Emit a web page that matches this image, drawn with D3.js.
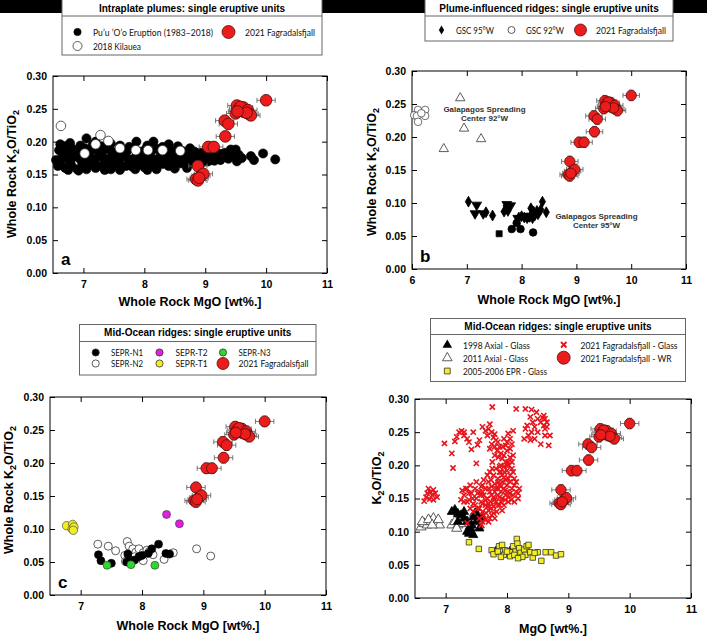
<!DOCTYPE html>
<html><head><meta charset="utf-8">
<script src="https://cdn.jsdelivr.net/npm/d3@7"></script>
<style>body{margin:0;background:#fff}</style>
</head><body>
<svg id="chart" width="707" height="637"></svg>
<script>
// ---------------- DATA ----------------
const yTicks = [0, 0.05, 0.10, 0.15, 0.20, 0.25, 0.30];
const xTicksA = [7, 8, 9, 10, 11];
const xTicksB = [6, 7, 8, 9, 10, 11];

// 2021 Fagradalsfjall whole-rock (all panels)
const fagMgO = [10.0, 9.52, 9.55, 9.5, 9.6, 9.63, 9.65, 9.58, 9.7, 9.72, 9.75, 9.68, 9.53, 9.32, 9.38, 9.33, 9.05, 9.14, 8.88, 8.85, 8.88, 8.93, 8.97, 8.9];
const fagK   = [0.263, 0.255, 0.250, 0.243, 0.247, 0.252, 0.245, 0.253, 0.248, 0.242, 0.240, 0.244, 0.246, 0.232, 0.227, 0.208, 0.192, 0.192, 0.163, 0.143, 0.141, 0.148, 0.151, 0.145];
const fagErrMgO = 0.15;
const fagErrK = 0.008;

// Panel a
const puuOo = [
 [6.58,0.163],[6.7,0.160],[6.8,0.164],[6.9,0.158],[7.0,0.162],[7.1,0.165],[7.2,0.160],[7.3,0.163],[7.4,0.161],[7.5,0.164],
 [7.6,0.160],[7.7,0.163],[7.8,0.162],[7.9,0.165],[8.0,0.161],[8.1,0.164],[8.2,0.162],[8.3,0.166],[8.4,0.163],[8.5,0.165],
 [8.6,0.167],[8.7,0.166],[8.8,0.168],[8.95,0.168],[9.05,0.170],[9.15,0.171],[9.25,0.172],
 [6.62,0.168],[6.78,0.169],[6.98,0.168],[7.18,0.169],[7.38,0.168],[7.58,0.169],[7.78,0.168],[7.98,0.169],[8.18,0.168],[8.38,0.170],
 [8.58,0.171],[8.78,0.172],[8.98,0.172],[9.18,0.174],[9.38,0.174],
 [6.55,0.172],[6.65,0.176],[6.75,0.174],[6.85,0.177],[6.95,0.173],[7.05,0.176],[7.15,0.174],[7.25,0.177],[7.35,0.173],[7.45,0.176],
 [7.55,0.174],[7.65,0.177],[7.75,0.173],[7.85,0.176],[7.95,0.174],[8.05,0.177],[8.15,0.173],[8.25,0.176],[8.35,0.174],[8.45,0.177],
 [8.55,0.175],[8.65,0.176],[8.75,0.177],[8.85,0.176],[8.95,0.178],[9.05,0.177],[9.15,0.178],[9.25,0.179],[9.35,0.178],[9.45,0.179],[9.55,0.180],
 [6.68,0.181],[6.88,0.182],[7.08,0.181],[7.28,0.182],[7.48,0.181],[7.68,0.182],[7.88,0.181],[8.08,0.182],[8.28,0.181],[8.48,0.182],
 [8.68,0.181],[8.88,0.180],[9.08,0.181],[9.28,0.180],
 [6.6,0.187],[6.72,0.183],[6.82,0.189],[6.92,0.185],[7.02,0.190],[7.12,0.186],[7.22,0.188],[7.32,0.185],[7.42,0.189],[7.52,0.184],
 [7.62,0.188],[7.72,0.186],[7.82,0.190],[7.92,0.185],[8.02,0.188],[8.12,0.186],[8.22,0.189],[8.32,0.184],[8.42,0.187],[8.52,0.185],
 [8.62,0.186],[8.72,0.184],[8.82,0.185],[8.92,0.183],[9.02,0.184],[9.12,0.183],[9.22,0.182],[9.32,0.183],
 [6.7,0.193],[6.95,0.194],[7.15,0.195],[7.3,0.193],[7.6,0.194],[7.75,0.192],[8.05,0.194],[8.3,0.192],[8.75,0.190],
 [6.62,0.196],[6.78,0.198],[7.05,0.205],[7.2,0.200],[7.45,0.197],[7.87,0.200],[8.15,0.200],[8.4,0.196],[8.55,0.193],[9.42,0.188],[9.5,0.188],
 [9.6,0.175],[9.75,0.178],[9.8,0.172],[9.95,0.182],[10.15,0.173],[9.52,0.170],
 [6.92,0.156],[7.6,0.157],[8.2,0.158],[6.6,0.170],[7.35,0.157],[8.7,0.160],
 [7.05,0.158],[7.45,0.158],[7.85,0.158],[8.05,0.157],[8.5,0.159],[6.75,0.157]
];
const kilauea2018 = [[6.63,0.224],[7.28,0.210],[7.41,0.201],[7.2,0.196],[7.02,0.182],[7.6,0.190],[7.86,0.187],[8.06,0.187],[8.3,0.187],[8.59,0.186]];

// Panel b
const gsc92Circles = [[6.11,0.241],[6.24,0.241],[6.04,0.233],[6.09,0.232],[6.24,0.232],[6.11,0.223],[6.17,0.236]];
const gsc92Triangles = [[6.88,0.259],[6.95,0.213],[7.26,0.197],[6.58,0.182]];
const gsc95Diamonds = [[7.03,0.102],[7.47,0.081],[7.35,0.086],[7.68,0.087],[7.75,0.088],[8.38,0.102],[8.45,0.086],[8.17,0.092],[8.22,0.087],[8.3,0.083],
 [8.0,0.080],[8.05,0.078],[8.1,0.077],[8.15,0.079],[8.24,0.081],[8.2,0.077],[7.95,0.078],[8.28,0.088],[8.35,0.090]];
const gsc95TrianglesDown = [[7.18,0.097],[7.15,0.084],[7.3,0.084],[7.73,0.098],[7.8,0.096],[7.75,0.092],[7.93,0.077],[8.12,0.080]];
const gsc95Circles = [[7.82,0.0605],[7.98,0.0605],[7.91,0.0696],[8.21,0.0554]];
const gsc95Squares = [[7.59,0.0534]];
const gscLabels = [["Galapagos Spreading", "Center 92°W"], ["Galapagos Spreading", "Center 95°W"]];

// Panel c
const seprN1 = [[7.29,0.061],[7.33,0.052],[7.5,0.048],[7.77,0.062],[7.8,0.053],[7.88,0.053],[8.0,0.060],[8.1,0.063],[8.16,0.070],[8.27,0.077],[8.39,0.063],[8.45,0.062],[7.75,0.050],[7.95,0.058]];
const seprN2 = [[7.28,0.077],[7.45,0.074],[7.57,0.067],[7.76,0.081],[7.79,0.074],[7.72,0.060],[7.73,0.051],[7.85,0.070],[7.9,0.065],[7.95,0.070],
 [8.02,0.052],[8.02,0.064],[8.08,0.068],[8.18,0.061],[8.36,0.054],[8.51,0.064],[8.89,0.070],[9.12,0.059],[7.88,0.058],[8.12,0.066]];
const seprT2 = [[8.4,0.122],[8.61,0.108]];
const seprT1 = [[6.77,0.105],[6.87,0.107],[6.86,0.100],[6.89,0.103],[6.88,0.098]];
const seprN3 = [[7.43,0.045],[7.82,0.046],[8.21,0.045]];

// Panel d
const axial1998 = [[7.1,0.130],[7.15,0.133],[7.2,0.127],[7.25,0.125],[7.3,0.120],[7.35,0.100],[7.38,0.097],[7.42,0.100],[7.45,0.095],[7.4,0.105],
 [7.48,0.128],[7.52,0.125],[7.3,0.130],[7.45,0.122],[7.2,0.115],[7.5,0.115],[7.35,0.115],[7.6,0.120],[7.55,0.105],[7.42,0.110],
 [7.82,0.070],[7.95,0.066],[8.05,0.070]];
const axial2011 = [[6.6,0.107],[6.65,0.112],[6.7,0.110],[6.75,0.115],[6.8,0.120],[6.85,0.113],[6.9,0.110],[6.62,0.115],[6.72,0.118],[6.78,0.110],[6.88,0.118],
 [7.1,0.110],[7.15,0.115],[7.2,0.110],[7.25,0.118],[7.3,0.112],[7.35,0.115],[7.4,0.108],[7.45,0.113],[7.5,0.118],[7.55,0.110],[7.28,0.122],[7.42,0.120],[7.18,0.105]];
const eprGlass = [[7.38,0.084],[7.54,0.074],[7.75,0.072],[7.78,0.066],[7.87,0.078],[7.92,0.080],[7.97,0.072],[7.95,0.065],[8.05,0.069],[8.05,0.063],
 [8.1,0.078],[8.14,0.070],[8.16,0.089],[8.17,0.082],[8.2,0.075],[8.22,0.068],[8.28,0.073],[8.3,0.065],[8.32,0.078],[8.35,0.080],
 [8.38,0.069],[8.42,0.061],[8.5,0.069],[8.56,0.056],[8.63,0.069],[8.72,0.069],[8.8,0.064],[8.88,0.066],[8.0,0.070],[7.85,0.070],
 [8.12,0.065],[8.25,0.062],[8.45,0.068],[7.9,0.062],[8.18,0.060]];
const fagGlass = [
 [6.65,0.146],[6.68,0.152],[6.7,0.158],[6.72,0.165],[6.75,0.160],[6.78,0.155],[6.8,0.163],[6.83,0.158],[6.86,0.152],[6.74,0.149],[6.8,0.148],
 [6.98,0.233],[7.1,0.218],[7.12,0.196],[7.15,0.236],[7.18,0.243],[7.22,0.250],[7.26,0.252],[7.3,0.245],[7.35,0.240],[7.42,0.224],[7.45,0.250],
 [7.5,0.203],[7.52,0.231],[7.55,0.238],[7.6,0.258],[7.65,0.252],[7.68,0.245],[7.72,0.262],[7.76,0.288],[7.33,0.165],[7.38,0.235],[7.3,0.250],
 [7.7,0.255],[7.75,0.250],[7.78,0.242],[7.8,0.247],[7.82,0.238],[7.85,0.235],[7.8,0.228],[7.84,0.222],[7.88,0.228],[7.9,0.218],[7.86,0.212],
 [7.92,0.210],[7.95,0.215],[7.98,0.205],[7.9,0.200],[7.95,0.198],[8.0,0.192],[8.02,0.205],[8.05,0.212],[7.88,0.190],[7.82,0.195],[7.78,0.185],
 [7.85,0.180],[7.92,0.185],[7.98,0.178],[8.05,0.185],[8.08,0.195],[7.75,0.232],[7.72,0.225],[7.8,0.215],[7.76,0.205],[7.95,0.240],[7.93,0.228],
 [8.0,0.222],[8.05,0.225],[8.0,0.235],[8.02,0.248],[8.05,0.240],[8.08,0.232],[7.98,0.230],
 [7.3,0.155],[7.35,0.165],[7.38,0.148],[7.42,0.158],[7.45,0.142],[7.48,0.165],[7.5,0.150],[7.52,0.135],[7.55,0.160],[7.58,0.145],[7.6,0.170],
 [7.62,0.155],[7.65,0.140],[7.65,0.165],[7.68,0.150],[7.7,0.175],[7.7,0.132],[7.72,0.160],[7.73,0.145],[7.75,0.168],[7.75,0.125],[7.78,0.152],
 [7.78,0.138],[7.8,0.172],[7.8,0.160],[7.82,0.145],[7.83,0.130],[7.85,0.165],[7.85,0.155],[7.88,0.170],[7.88,0.140],[7.9,0.160],[7.92,0.150],
 [7.92,0.175],[7.95,0.165],[7.95,0.140],[7.98,0.155],[8.0,0.170],[8.0,0.160],[8.02,0.145],[8.05,0.158],[8.05,0.175],[8.08,0.165],[8.1,0.155],
 [8.12,0.170],[8.15,0.160],[8.18,0.158],[8.12,0.180],[7.6,0.130],[7.55,0.120],[7.65,0.118],[7.7,0.115],[7.62,0.125],[7.68,0.138],[7.58,0.168],
 [7.5,0.175],[7.4,0.170],[7.35,0.145],[7.45,0.130],[7.72,0.120],[7.8,0.120],[7.85,0.140],[7.48,0.140],[7.4,0.135],[7.55,0.135],[7.3,0.145],
 [7.25,0.148],[7.65,0.148],[7.75,0.155],[7.9,0.145],[8.02,0.180],[8.1,0.190],[8.15,0.175],[7.6,0.160],[7.7,0.165],[7.8,0.148],[7.92,0.132],
 [7.97,0.148],[8.2,0.165],[8.18,0.150],[8.12,0.145],[7.35,0.113],[7.58,0.110],[7.6,0.115],
 [7.62,0.178],[7.68,0.185],[7.72,0.190],[7.74,0.178],[7.76,0.195],[7.88,0.198],[7.9,0.190],[7.96,0.190],[8.0,0.200],[7.95,0.182],
 [7.86,0.175],[7.82,0.165],[7.9,0.168],[7.97,0.162],[8.03,0.152],[8.07,0.148],[7.6,0.142],[7.66,0.128],[7.78,0.128],[7.88,0.152],
 [7.7,0.142],[7.74,0.135],[8.08,0.205],[8.1,0.215],[8.03,0.200],[7.58,0.155],[7.52,0.158],[7.44,0.150],[7.38,0.158],[7.27,0.162],
 [8.1,0.252],[8.15,0.285],[8.3,0.285],[8.4,0.284],[8.28,0.240],[8.3,0.255],[8.33,0.260],[8.35,0.245],[8.38,0.238],[8.4,0.250],[8.42,0.265],
 [8.45,0.258],[8.5,0.270],[8.5,0.250],[8.55,0.265],[8.58,0.272],[8.6,0.260],[8.62,0.255],[8.62,0.270],[8.65,0.265],[8.62,0.245],[8.68,0.230],
 [8.7,0.245],[8.55,0.232],[8.45,0.240],[8.38,0.273],[8.48,0.280],[8.6,0.275],[8.65,0.258]
];

// ---------------- DRAWING ----------------
const svg = d3.select("#chart");
const FONT = "'Liberation Sans', Arial, Helvetica, sans-serif";
const LFONT = "Lato, 'Open Sans', sans-serif";
const RED = "#ec1c1c", REDSTROKE = "#5a0a0a";

svg.append("rect").attr("x",0).attr("y",0).attr("width",707).attr("height",13).attr("fill","#000");

function panel(c) {
  const x = d3.scaleLinear().domain(c.xdom).range([c.l, c.r]);
  const y = d3.scaleLinear().domain([0, 0.30]).range([c.b, c.t]);
  const g = svg.append("g");
  const ax = (sel) => { sel.select(".domain").remove(); sel.selectAll("text").attr("font-family",FONT).attr("font-weight","bold").attr("font-size",10.5).attr("fill","#000"); sel.selectAll("line").attr("stroke","#000"); };
  g.append("g").attr("transform",`translate(0,${c.b})`)
    .call(d3.axisBottom(x).tickValues(c.xticks).tickSizeInner(-5).tickSizeOuter(0).tickPadding(8).tickFormat(d3.format("d"))).call(ax);
  g.append("g").attr("transform",`translate(0,${c.t})`)
    .call(d3.axisTop(x).tickValues(c.xticks).tickSizeInner(-5).tickSizeOuter(0).tickFormat("")).call(ax);
  g.append("g").attr("transform",`translate(${c.l},0)`)
    .call(d3.axisLeft(y).tickValues(yTicks).tickSizeInner(-5).tickSizeOuter(0).tickPadding(6).tickFormat(d3.format(".2f"))).call(ax);
  g.append("g").attr("transform",`translate(${c.r},0)`)
    .call(d3.axisRight(y).tickValues(yTicks).tickSizeInner(-5).tickSizeOuter(0).tickFormat("")).call(ax);
  g.append("rect").attr("x",c.l).attr("y",c.t).attr("width",c.r-c.l).attr("height",c.b-c.t).attr("fill","none").attr("stroke","#000").attr("stroke-width",1);
  g.append("text").attr("x",(c.l+c.r)/2 + (c.xtOff||0)).attr("y",c.xtY).attr("text-anchor","middle")
    .attr("font-family",FONT).attr("font-weight","bold").attr("font-size",12.5).text(c.xtitle);
  const t = g.append("text").attr("transform",`translate(${c.ytX},${c.ytY}) rotate(-90)`).attr("text-anchor","middle")
    .attr("font-family",FONT).attr("font-weight","bold").attr("font-size",12.5);
  t.append("tspan").text(c.yprefix + "K");
  t.append("tspan").attr("dy",3).attr("font-size",9).text("2");
  t.append("tspan").attr("dy",-3).text("O/TiO");
  t.append("tspan").attr("dy",3).attr("font-size",9).text("2");
  if (c.label) g.append("text").attr("x",c.l+8).attr("y",c.labelY).attr("font-family",FONT).attr("font-weight","bold").attr("font-size",17).text(c.label);
  return {g, x, y};
}

function circles(p, data, r, fill, stroke, sw) {
  p.g.append("g").selectAll("circle").data(data).join("circle")
    .attr("cx",d=>p.x(d[0])).attr("cy",d=>p.y(d[1])).attr("r",r)
    .attr("fill",fill).attr("stroke",stroke).attr("stroke-width",sw||0.8);
}
function symbols(p, data, type, size, fill, stroke, rot) {
  p.g.append("g").selectAll("path").data(data).join("path")
    .attr("d", d3.symbol().type(type).size(size))
    .attr("transform",d=>`translate(${p.x(d[0])},${p.y(d[1])})${rot?` rotate(${rot})`:""}`)
    .attr("fill",fill).attr("stroke",stroke).attr("stroke-width",0.8);
}
function crosses(p, data, a) {
  p.g.append("g").selectAll("path").data(data).join("path")
    .attr("d",d=>{const cx=p.x(d[0]), cy=p.y(d[1]); return `M${cx-a},${cy-a}L${cx+a},${cy+a}M${cx-a},${cy+a}L${cx+a},${cy-a}`;})
    .attr("stroke","#e8141c").attr("stroke-width",1.6).attr("fill","none");
}
function fag(p, r) {
  const eg = p.g.append("g").attr("stroke","#6a6a6a").attr("stroke-width",0.9).attr("fill","none");
  fagMgO.forEach((m,i)=>{
    const k = fagK[i];
    const x0=p.x(m-fagErrMgO), x1=p.x(m+fagErrMgO), yc=p.y(k);
    const y0=p.y(k-fagErrK), y1=p.y(k+fagErrK), xc=p.x(m);
    eg.append("path").attr("d",`M${x0},${yc}H${x1}M${x0},${yc-2.5}V${yc+2.5}M${x1},${yc-2.5}V${yc+2.5}M${xc},${y0}V${y1}M${xc-2.5},${y0}H${xc+2.5}M${xc-2.5},${y1}H${xc+2.5}`);
  });
  circles(p, fagMgO.map((m,i)=>[m,fagK[i]]), r, RED, REDSTROKE, 0.8);
}

function legendBox(x0,x1,y0,y1,yDiv,title,titleY) {
  const g = svg.append("g");
  g.append("rect").attr("x",x0).attr("y",y0).attr("width",x1-x0).attr("height",y1-y0).attr("fill","#fff").attr("stroke","#666").attr("stroke-width",1);
  g.append("line").attr("x1",x0).attr("x2",x1).attr("y1",yDiv).attr("y2",yDiv).attr("stroke","#666");
  g.append("text").attr("x",(x0+x1)/2).attr("y",titleY).attr("text-anchor","middle").attr("font-family",FONT).attr("font-weight","bold").attr("font-size",10).text(title);
  return g;
}
function ltext(g,x,y,s,len){ const t = g.append("text").attr("x",x).attr("y",y).attr("font-family",LFONT).attr("font-size",10).attr("fill","#111").text(s);
  if (len) t.attr("textLength",len).attr("lengthAdjust","spacingAndGlyphs"); }
function lcircle(g,x,y,r,fill,stroke){ g.append("circle").attr("cx",x).attr("cy",y).attr("r",r).attr("fill",fill).attr("stroke",stroke).attr("stroke-width",0.8); }

// ---- Panel a ----
const pa = panel({l:53,r:327,t:76,b:273,xdom:[6.5,11],xticks:xTicksA,xtitle:"Whole Rock MgO [wt%.]",xtY:306,
  ytX:16,ytY:174,yprefix:"Whole Rock ",label:"a",labelY:265});
circles(pa, puuOo, 4.6, "#000", "#000", 0.6);
circles(pa, kilauea2018, 4.8, "#fff", "#333", 0.8);
fag(pa, 5.8);

// ---- Panel b ----
const pb = panel({l:412,r:686,t:71,b:269,xdom:[6,11],xticks:xTicksB,xtitle:"Whole Rock MgO [wt%.]",xtY:304,
  ytX:376,ytY:172,yprefix:"Whole Rock ",label:"b",labelY:262});
circles(pb, gsc92Circles, 3.8, "#fff", "#333", 0.7);
symbols(pb, gsc92Triangles, d3.symbolTriangle, 38, "#fff", "#333");
symbols(pb, gsc95Diamonds, d3.symbolDiamond, 34, "#000", "#000");
symbols(pb, gsc95TrianglesDown, d3.symbolTriangle, 42, "#000", "#000", 180);
circles(pb, gsc95Circles, 3.8, "#000", "#000");
symbols(pb, gsc95Squares, d3.symbolSquare, 36, "#000", "#000");
fag(pb, 5.2);
[[484.5,111.5],[596.5,218.5]].forEach((pos,i)=>{
  const t = pb.g.append("text").attr("x",pos[0]).attr("y",pos[1]).attr("text-anchor","middle").attr("font-family",FONT).attr("font-weight","bold").attr("font-size",8).attr("fill","#333");
  t.append("tspan").attr("x",pos[0]).text(gscLabels[i][0]);
  t.append("tspan").attr("x",pos[0]).attr("dy",9).text(gscLabels[i][1]);
});

// ---- Panel c ----
const pc = panel({l:50,r:326,t:397,b:595,xdom:[6.5,11],xticks:xTicksA,xtitle:"Whole Rock MgO [wt%.]",xtY:630,
  ytX:13,ytY:490,yprefix:"Whole Rock ",label:"c",labelY:588});
circles(pc, seprN2, 4, "#fff", "#333", 0.8);
circles(pc, seprN1, 4, "#000", "#000", 0.6);
circles(pc, seprN3, 4, "#2ed62e", "#333", 0.6);
circles(pc, seprT2, 4, "#e020e0", "#333", 0.6);
circles(pc, seprT1, 4.2, "#f2ee22", "#333", 0.6);
fag(pc, 5.5);

// ---- Panel d ----
const pd = panel({l:415,r:691,t:399,b:598,xdom:[6.5,11],xticks:xTicksA,xtitle:"MgO [wt%.]",xtY:633,
  ytX:381,ytY:478,yprefix:""});
symbols(pd, axial2011, d3.symbolTriangle, 44, "#fff", "#333");
symbols(pd, axial1998, d3.symbolTriangle, 36, "#000", "#000");
crosses(pd, fagGlass, 2.6);
symbols(pd, eprGlass, d3.symbolSquare, 30, "#f2ee22", "#333");
fag(pd, 5.2);

// ---- Legends ----
const la = legendBox(62,322,-1,55,16,"Intraplate plumes: single eruptive units",12);
lcircle(la,77.5,32,3.6,"#000","#000"); ltext(la,93,36,"Pu\u2019u \u2019O\u2019o Eruption (1983\u20132018)",120);
lcircle(la,228.5,32,6.5,RED,REDSTROKE); ltext(la,245,36,"2021 Fagradalsfjall",70);
lcircle(la,77.5,46,4.5,"#fff","#333"); ltext(la,93,50,"2018 Kilauea",48);

const lb = legendBox(425,673,-1,41,16,"Plume-influenced ridges: single eruptive units",12);
lb.append("path").attr("d",d3.symbol().type(d3.symbolDiamond).size(24)).attr("transform","translate(441.5,30)").attr("fill","#000");
ltext(lb,456,34,"GSC 95\u00b0W",38);
lcircle(lb,511.5,30,3.5,"#fff","#333"); ltext(lb,526,34,"GSC 92\u00b0W",38);
lcircle(lb,580.5,30,6,RED,REDSTROKE); ltext(lb,596,34,"2021 Fagradalsfjall",70);

const lc = legendBox(79.5,316,324.5,375,341.5,"Mid-Ocean ridges: single eruptive units",336);
const lcItems = [["SEPR-N1","#000",3.6],["SEPR-T2","#e020e0",3.6],["SEPR-N3","#2ed62e",3.6],["SEPR-N2","#fff",3.6],["SEPR-T1","#f2ee22",3.6],["2021 Fagradalsfjall",RED,6]];
const lcCols = [[95.7,111],[159.5,175.5],[223,238.5]];
lcItems.forEach((it,i)=>{
  const col = lcCols[i%3], yy = i<3 ? 352.5 : 363.5;
  lcircle(lc,col[0],yy,it[2],it[1], it[1]===RED?REDSTROKE:"#333");
  ltext(lc,col[1],yy+3.8,it[0], it[0].length>10 ? 70 : 32);
});

const ld = legendBox(430.5,685.5,318.5,381.5,334.5,"Mid-Ocean ridges: single eruptive units",330);
ld.append("path").attr("d",d3.symbol().type(d3.symbolTriangle).size(40)).attr("transform","translate(447.3,345)").attr("fill","#000");
ltext(ld,463,349,"1998 Axial - Glass",67);
ld.append("path").attr("d",d3.symbol().type(d3.symbolTriangle).size(40)).attr("transform","translate(447.3,358)").attr("fill","#fff").attr("stroke","#333").attr("stroke-width",0.8);
ltext(ld,463,362,"2011 Axial - Glass",65);
ld.append("path").attr("d",d3.symbol().type(d3.symbolSquare).size(34)).attr("transform","translate(447.3,371)").attr("fill","#f2ee22").attr("stroke","#333").attr("stroke-width",0.8);
ltext(ld,463,375,"2005-2006 EPR - Glass",84);
ld.append("path").attr("d","M561,342L566.5,347.5M561,347.5L566.5,342").attr("stroke","#e8141c").attr("stroke-width",1.8);
ltext(ld,580.5,349,"2021 Fagradalsfjall - Glass",97);
lcircle(ld,563.7,357.7,6.5,RED,REDSTROKE); ltext(ld,580.5,362,"2021 Fagradalsfjall - WR",91);
</script>
</body></html>
